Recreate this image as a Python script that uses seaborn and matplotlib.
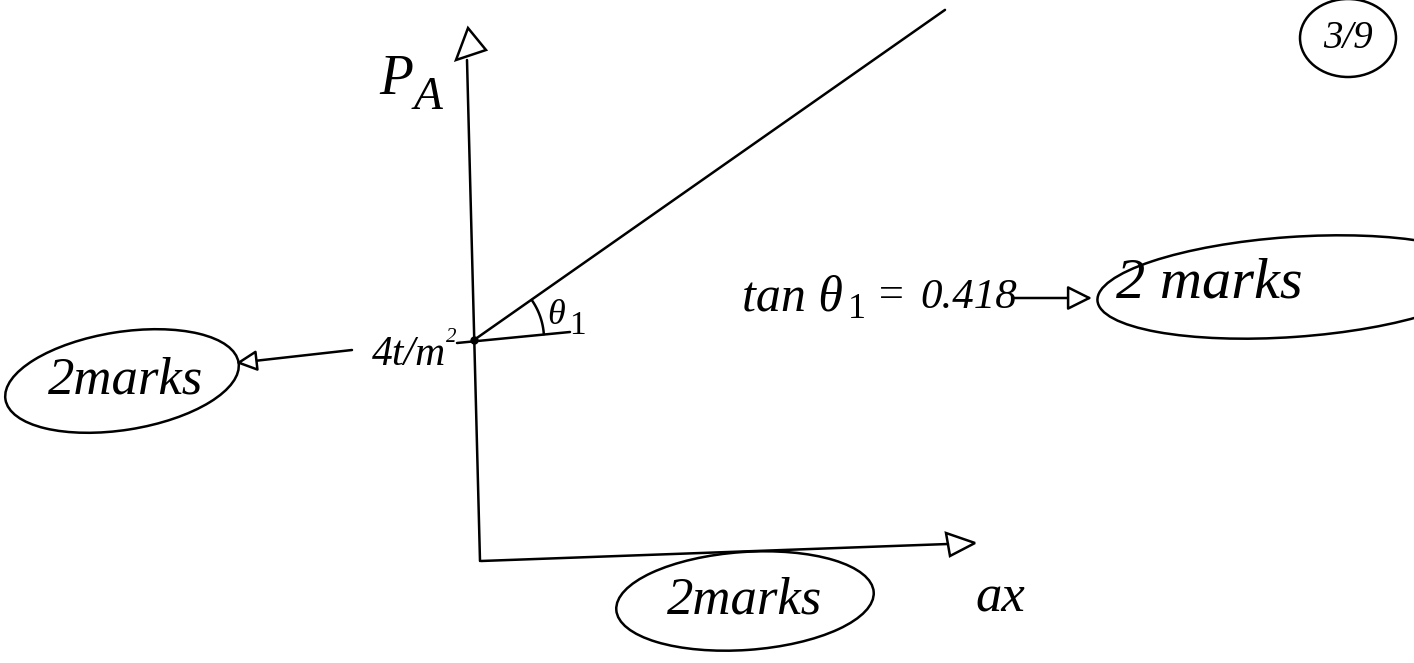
import numpy as np
import pandas as pd
import seaborn as sns
import matplotlib
matplotlib.use("Agg")
import matplotlib.pyplot as plt
from matplotlib.patches import Ellipse, Polygon
import matplotlib.transforms as mtransforms

# Pressure line: p_A = intercept + tan(theta1) * a_x
intercept = 4.0          # t/m^2
tan_theta1 = 0.418
a_x = [0.0, 14.36]
p_a = [intercept + tan_theta1 * v for v in a_x]

marks_axis = "2marks"
marks_slope = "2 marks"
marks_intercept = "2marks"
page_label = "3/9"

W, H = 1414, 663
sns.set_theme(style="white")
plt.rcParams["font.family"] = ["Liberation Serif", "DejaVu Serif"]
plt.rcParams["font.style"] = "italic"
plt.rcParams["text.color"] = "black"

fig = plt.figure(figsize=(W / 100, H / 100), dpi=100)
fig.patch.set_facecolor("white")
ax = fig.add_axes([0, 0, 1, 1])

# data scale: origin of the sketch at pixel (474, 560)
ox, oy, sx, sy = 474, 560, 32.8, 55.0
ax.set_xlim(-ox / sx, (W - ox) / sx)
ax.set_ylim(-(H - oy) / sy, oy / sy)
ax.set_axis_off()

df = pd.DataFrame({"a_x": a_x, "p_A": p_a})
sns.lineplot(data=df, x="a_x", y="p_A", ax=ax, color="black", lw=1.8)
ax.plot([0], [intercept], "o", color="black", ms=5)

# pixel-space transform (origin top-left) for the hand-drawn furniture
pix = mtransforms.Affine2D().scale(1 / W, -1 / H).translate(0, 1) + fig.transFigure
ink = dict(color="black", lw=1.8, transform=pix, clip_on=False)


def label(x, y, s, size, ha="center", **kw):
    ax.text(x, y, s, fontsize=size, ha=ha, va="center", transform=pix,
            color="black", **kw)


def open_arrow(x0, y0, x1, y1, scale=28):
    ax.annotate("", xy=(x1, y1), xytext=(x0, y0), xycoords=pix, textcoords=pix,
                arrowprops=dict(arrowstyle="-|>", lw=1.8, color="black",
                                fc="white", mutation_scale=scale,
                                shrinkA=0, shrinkB=0))


# axes of the sketch
ax.plot([480, 467], [561, 60], **ink)
ax.add_patch(Polygon([[456, 60], [468, 28], [486, 50]], closed=True,
                     fill=False, ec="black", lw=1.8, transform=pix))
ax.plot([481, 948], [561, 544], **ink)
ax.add_patch(Polygon([[946, 533], [975, 543], [950, 556]], closed=True,
                     fill=False, ec="black", lw=1.8, transform=pix))

# angle construction
ax.plot([457, 570], [343, 332], **ink)
ang = np.radians(np.linspace(4, 35, 30))
ax.plot(476 + 68 * np.cos(ang), 339 - 68 * np.sin(ang), **ink)
label(556, 316, "θ", 26)
label(577, 326, "1", 24, style="normal")

# axis labels
label(396, 80, "P", 40)
label(428, 98, "A", 34)
label(1000, 598, "ax", 38)

# intercept annotation
label(409, 355, "4t/m", 30)
label(451, 337, "2", 15)
open_arrow(352, 350, 236, 363, scale=32)
ax.add_patch(Ellipse((122, 381), 236, 98, angle=-9, fill=False, ec="black",
                     lw=1.8, transform=pix))
label(126, 380, marks_intercept, 38)

# slope annotation
label(742, 298, "tan θ", 36, ha="left")
label(848, 310, "1", 26, ha="left", style="normal")
label(876, 296, "=", 32, ha="left")
label(920, 298, f"0.{str(tan_theta1).split('.')[1]}", 31, ha="left")
open_arrow(1012, 298, 1092, 298, scale=38)
ax.add_patch(Ellipse((1292, 287), 390, 100, angle=-4, fill=False, ec="black",
                     lw=1.8, transform=pix))
label(1116, 283, marks_slope, 42, ha="left")

# x-axis annotation
ax.add_patch(Ellipse((745, 601), 258, 98, angle=-4, fill=False, ec="black",
                     lw=1.8, transform=pix))
label(745, 600, marks_axis, 38)

# page number
ax.add_patch(Ellipse((1348, 38), 96, 78, fill=False, ec="black", lw=1.8,
                     transform=pix))
label(1348, 38, page_label, 28)

fig.savefig("out.png", dpi=100, facecolor="white")
